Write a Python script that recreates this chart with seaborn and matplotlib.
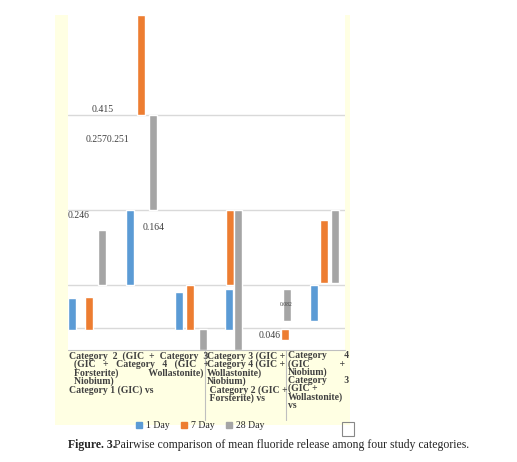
import matplotlib
matplotlib.use("Agg")
import matplotlib.pyplot as plt
import seaborn as sns
import numpy as np
from matplotlib.patches import Rectangle

sns.set_theme(style="white")
plt.rcParams['font.family'] = ['Liberation Serif', 'DejaVu Serif']

series = ["1 Day", "7 Day", "28 Day"]
colors = ["#5B9BD5", "#ED7D31", "#A5A5A5"]
# slot positions (chart units), tops and bottoms (chart units)
pos = {"1 Day": [4, 62, 111, 161, 246], "7 Day": [21, 73, 122, 162, 217, 256], "28 Day": [34, 85, 135, 170, 219, 267]}
top = {"1 Day": [52, 140, 58, 61, 65], "7 Day": [53, 335, 65, 140, 21, 130], "28 Day": [120, 235, 21, 140, 61, 140]}
bottom = {"1 Day": [20, 65, 20, 20, 29], "7 Day": [20, 235, 20, 65, 10, 67], "28 Day": [65, 140, 0, 0, 29, 67]}
gridvals = [235, 140, 65, 22]
value_labels = ["0.415", "0.2570.251", "0.246", "0.164", "0.082", "0.046"]
label_xy = [(24, 240), (18, 210), (0, 135), (75, 122), (212, 46), (191, 14)]
cat_labels = ["Category  2  (GIC  +  Category  3\n  (GIC   +   Category   4   (GIC   +\n  Forsterite)            Wollastonite)\n  Niobium)\nCategory 1 (GIC) vs",
              "Category 3 (GIC +\nCategory 4 (GIC +\nWollastonite)\nNiobium)\n Category 2 (GIC +\n Forsterite) vs",
              "Category       4\n(GIC            +\nNiobium)\nCategory       3\n(GIC +\nWollastonite)\nvs"]
cat_x = [69, 207, 288]

fig = plt.figure(figsize=(5.17, 4.62), dpi=100)
W, H = 517, 462
bg = fig.add_axes([55/W, 1-425/H, 295/W, 410/H], zorder=0)
bg.set_facecolor("#FFFFE3")
bg.set_xticks([]); bg.set_yticks([])
for sp in bg.spines.values():
    sp.set_visible(False)
ax = fig.add_axes([68/W, 1-350/H, 277/W, 335/H], zorder=2)
ax.set_facecolor("white")
for g in gridvals:
    ax.axhline(g, color="#D9D9D9", lw=1, zorder=0)
for s, c in zip(series, colors):
    h = np.array(top[s]) - np.array(bottom[s])
    ax.bar(pos[s], h, bottom=bottom[s], width=8, color=c, zorder=2, align="center")
for t, (x, y) in zip(value_labels, label_xy):
    ax.text(x, y, t, fontsize=7 if t != "0.082" else 4, va="center", color="#404040")
ax.set_xlim(0, 277)
ax.set_ylim(0, 335)
ax.set_xticks([]); ax.set_yticks([])
for sp in ax.spines.values():
    sp.set_visible(False)

fig.add_artist(plt.Line2D([68/W, 345/W], [1-350/H, 1-350/H], color="#BFBFBF", lw=0.8, zorder=3))
for xl in [205, 286]:
    fig.add_artist(plt.Line2D([xl/W, xl/W], [1-350/H, 1-420/H], color="#BFBFBF", lw=0.8, zorder=3))
for t, x in zip(cat_labels, cat_x):
    fig.text(x/W, 1-351/H, t, fontsize=7, va="top", ha="left", fontweight="bold", color="#404040", linespacing=0.85, zorder=3)
handles = [Rectangle((0, 0), 1, 1, color=c) for c in colors]
leg = fig.legend(handles, series, loc="center", bbox_to_anchor=(200/W, 1-426/H), ncol=3, frameon=False,
           fontsize=7, handlelength=0.6, handleheight=0.6, columnspacing=1.2, handletextpad=0.4)
leg.set_zorder(3)
fig.add_artist(Rectangle((342/W, 1-436/H), 12/W, 14/H, transform=fig.transFigure, fill=False, ec="#888888", lw=0.8))
fig.text(68/W, 1-445/H, "Figure. 3.", fontsize=8.5, va="center", fontweight="bold")
fig.text(114/W, 1-445/H, "Pairwise comparison of mean fluoride release among four study categories.", fontsize=8.5, va="center")
fig.savefig("out.png", dpi=100)
